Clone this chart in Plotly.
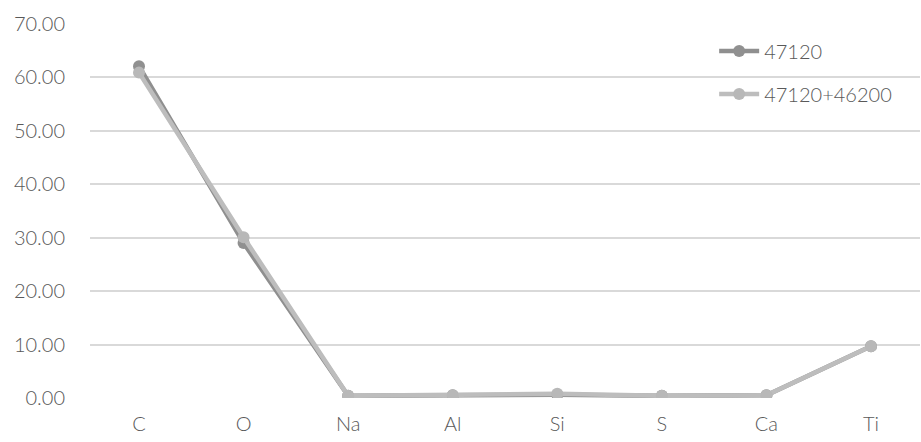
import plotly.graph_objects as go

elements = ["C", "O", "Na", "Al", "Si", "S", "Ca", "Ti"]
s1_name = "47120"
s1_values = [62.1, 29.0, 0.4, 0.5, 0.6, 0.4, 0.5, 9.7]
s2_name = "47120+46200"
s2_values = [60.9, 30.1, 0.4, 0.5, 0.8, 0.4, 0.5, 9.7]
y_ticks = [0, 10, 20, 30, 40, 50, 60, 70]

label_font = dict(family="Lato, 'Noto Sans', sans-serif", size=20, color="#595959", weight=300)

fig = go.Figure()
fig.add_trace(go.Scatter(
    x=elements, y=s1_values, name=s1_name, mode="lines+markers",
    line=dict(color="#8f8f8f", width=4.5),
    marker=dict(color="#909090", size=12),
    legendgroup="a",
))
fig.add_trace(go.Scatter(
    x=elements, y=s2_values, name=s2_name, mode="lines+markers",
    line=dict(color="#bdbdbd", width=4.5),
    marker=dict(color="#b8b8b8", size=12),
    legendgroup="b",
))

fig.update_layout(
    width=921, height=442,
    margin=dict(l=90, r=1, t=24, b=44),
    paper_bgcolor="white", plot_bgcolor="white",
    font=label_font,
    showlegend=True,
    legend=dict(
        x=0.752, y=0.98, xanchor="left", yanchor="top",
        bgcolor="rgba(0,0,0,0)", tracegroupgap=14,
        font=label_font,
        itemwidth=40,
    ),
    xaxis=dict(
        showgrid=False, zeroline=False, showline=False,
        ticks="", tickfont=label_font, ticklabelstandoff=12,
    ),
    yaxis=dict(
        range=[0, 70], tickvals=y_ticks,
        ticktext=[f"{v:.2f}" for v in y_ticks],
        showgrid=True, gridcolor="#d9d9d9", gridwidth=2,
        zeroline=False, showline=False, ticks="",
        ticklabelstandoff=24,
        tickfont=label_font,
    ),
)

fig.write_html("out.html")
